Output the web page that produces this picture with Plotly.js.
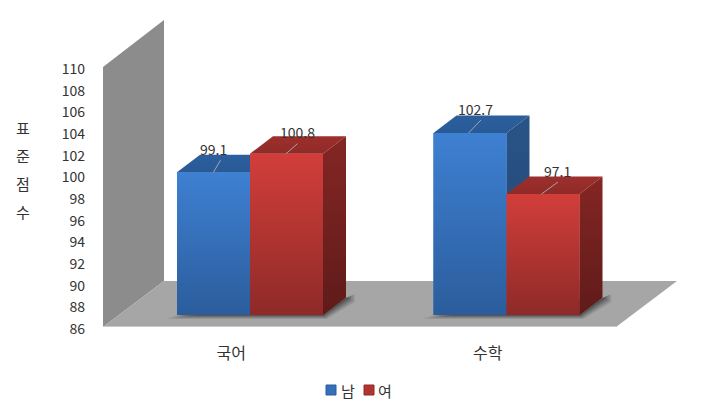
<!DOCTYPE html>
<html><head><meta charset="utf-8">
<script src="https://cdn.plot.ly/plotly-3.0.0.min.js"></script>
<style>html,body{margin:0;padding:0;background:#fff}</style></head>
<body><div id="c" style="width:714px;height:412px"></div>
<script>
const categories = ["국어", "수학"];
const seriesNames = ["남", "여"];
const male = [99.1, 102.7];
const female = [100.8, 97.1];
const yTicks = [86,88,90,92,94,96,98,100,102,104,106,108,110];
const yTitleChars = ["표","준","점","수"];
const FONT = '"Noto Sans CJK KR","Noto Sans",sans-serif';
const TXT = "#333333";

// plot frame (pixels per data unit on the front plane)
const W=714,H=412,ml=103,mr=36,mt=19,mb=85;
const pw=W-ml-mr, ph=H-mt-mb;
const kx=256.5, ky=260/24, ky2=10.9;
const x1r=[-0.5,-0.5+pw/kx], y1r=[86,86+ph/ky];
// bars stand further back on the floor: overlay axes shifted into the depth
const x2r=[-147/kx,-147/kx+pw/kx], y2r=[86-12/ky2,86-12/ky2+ph/ky2];
const barW=73/kx, dX=23/kx, dY=17.5/ky2;

const colors=[
 {front:["#2b5d9c","#3e80d2"],top:["#285a96","#2d5f9f"],side:["#1f4470","#2a5488"],base:"#3570b8"},
 {front:["#8e2a28","#d23e3a"],top:["#8f2a28","#9e2f2c"],side:["#5f1b19","#842624"],base:"#b03430"}
];
const traces=[];
function poly(xs,ys,fill,ax,grad){
  const t={x:xs.concat(xs[0]),y:ys.concat(ys[0]),mode:"lines",fill:"toself",line:{width:0,color:"rgba(0,0,0,0)"},
    showlegend:false,hoverinfo:"skip",xaxis:ax?"x2":"x",yaxis:ax?"y2":"y"};
  if(grad) t.fillgradient={type:"vertical",colorscale:[[0,grad[0]],[1,grad[1]]]};
  else t.fillcolor=fill;
  traces.push(t);
}
// back wall side + floor
const wdx=61/kx, wdyTop=47/ky, wdyBot=46/ky;
poly([-0.5,-0.5,-0.5+wdx,-0.5+wdx],[86,110,110+wdyTop,86+wdyBot],"#8c8c8c",false);
poly([-0.5,1.5,1.5+wdx,-0.5+wdx],[86,86,86+wdyBot,86+wdyBot],"#a6a6a6",false);
traces.push({x:[-0.5,1.5],y:[86,86],mode:"lines",line:{color:"#d4d4d4",width:1.5},showlegend:false,hoverinfo:"skip",cliponaxis:false});
// soft floor shadows under each bar group
categories.forEach((c,i)=>{
  const L=i+18.5/kx-barW, R=i+18.5/kx+barW, B=86+12/ky;
  [[12,4,9,.12],[9,3,7,.16],[6,2,5,.2],[3,1,3,.28]].forEach(s=>{
    poly([L-s[0]/kx,R+s[1]/kx,R+dX+s[2]/kx,R+dX+s[2]/kx,R+dX],
         [B-s[1]/ky,B-s[1]/ky,B+17/ky-s[1]/ky,B+17/ky+s[1]/ky,B+17/ky],`rgba(30,30,30,${s[3]})`,false);
  });
});
// front faces as real bars on the shifted axes
[male,female].forEach((vals,s)=>{
  traces.push({type:"bar",name:seriesNames[s],x:categories.map((c,i)=>i),y:vals.map(v=>v-86),base:86,
    marker:{color:colors[s].base},xaxis:"x2",yaxis:"y2",showlegend:false,hoverinfo:"skip"});
});
// 3D faces derived from the values
categories.forEach((c,i)=>{
  [male,female].forEach((vals,s)=>{
    const v=vals[i], xl=i-barW+s*barW, xr=xl+barW, col=colors[s];
    poly([xl,xr,xr+dX,xl+dX],[v,v,v+dY,v+dY],null,true,col.top);
    poly([xr,xr,xr+dX,xr+dX],[86,v,v+dY,86+dY],null,true,col.side);
    poly([xl,xr,xr,xl],[86,86,v,v],null,true,col.front);
  });
});
// value labels with leader lines (offsets in pixels from the bar's top-front centre)
const labelDx=[[0,11],[5,14.5]], labelDy=[[23,22],[24,23]];
const lineFromDx=[[0,-0.5],[-1.5,-1.5]], lineToDx=[[7,11],[11,15]], lineToDy=[[12,10],[13,12]];
const annotations=[];
categories.forEach((c,i)=>{
  [male,female].forEach((vals,s)=>{
    const v=vals[i], xc=i-barW+s*barW+barW/2;
    traces.push({x:[xc+lineFromDx[i][s]/kx,xc+lineToDx[i][s]/kx],y:[v,v+lineToDy[i][s]/ky2],mode:"lines",
      line:{color:"#a6a6a6",width:1},xaxis:"x2",yaxis:"y2",showlegend:false,hoverinfo:"skip"});
    annotations.push({xref:"x2",yref:"y2",x:xc,y:v,xshift:labelDx[i][s],yshift:labelDy[i][s],text:v.toFixed(1),showarrow:false,
      font:{family:FONT,size:14,color:TXT}});
  });
});
// vertical axis title, one character per row
yTitleChars.forEach((ch,i)=>annotations.push({xref:"paper",yref:"paper",xanchor:"center",yanchor:"middle",
  x:(23-ml)/pw,y:(H-mb-(127+28*i))/ph,text:ch,showarrow:false,font:{family:FONT,size:15,color:TXT}}));
// legend
const legX=[331,369], legTextX=[348,385], legY=390;
const shapes=[];
seriesNames.forEach((n,i)=>{
  annotations.push({xref:"paper",yref:"paper",xanchor:"center",yanchor:"middle",x:(legTextX[i]-ml)/pw,y:(H-mb-legY-0.5)/ph,
    text:n,showarrow:false,font:{family:FONT,size:15,color:TXT}});
  shapes.push({type:"rect",xref:"paper",yref:"paper",x0:(legX[i]-5-ml)/pw,x1:(legX[i]+5-ml)/pw,y0:(H-mb-legY-5)/ph,y1:(H-mb-legY+5)/ph,
    fillcolor:colors[i].base,line:{color:colors[i].front[0],width:1}});
});
const layout={
  width:W,height:H,margin:{l:ml,r:mr,t:mt,b:mb,pad:0},paper_bgcolor:"#fff",plot_bgcolor:"rgba(0,0,0,0)",
  showlegend:false,barmode:"group",bargap:1-2*barW,bargroupgap:0,hovermode:false,
  xaxis:{range:x1r,type:"linear",tickmode:"array",tickvals:categories.map((c,i)=>i),ticktext:categories,
    showgrid:false,zeroline:false,showline:false,ticks:"",tickfont:{family:FONT,size:16,color:TXT},ticklabelstandoff:15,fixedrange:true},
  yaxis:{range:y1r,type:"linear",tickmode:"array",tickvals:yTicks,showgrid:false,zeroline:false,showline:false,ticks:"",
    tickfont:{family:FONT,size:14,color:TXT},ticklabelstandoff:17,ticklabelshift:2,fixedrange:true},
  xaxis2:{range:x2r,type:"linear",overlaying:"x",visible:false,fixedrange:true},
  yaxis2:{range:y2r,type:"linear",overlaying:"y",visible:false,fixedrange:true},
  annotations,shapes
};
Plotly.newPlot("c",traces,layout,{displayModeBar:false,staticPlot:true});
</script></body></html>
